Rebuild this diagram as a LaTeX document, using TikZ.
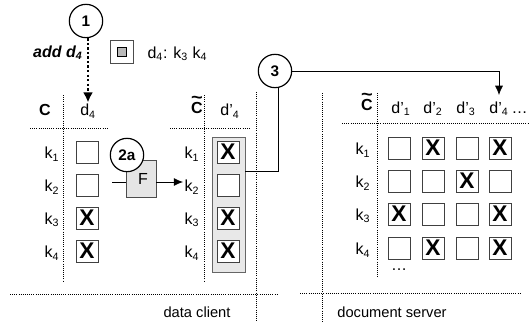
\documentclass[tikz,border=0pt]{standalone}
\usepackage{fontspec}
\usepackage{graphicx}
\setmainfont{Liberation Sans}
\usetikzlibrary{arrows.meta, positioning}
\newcommand{\idx}[1]{\textsubscript{#1}}
\newcommand{\ctil}{\ooalign{\bfseries C\cr\hidewidth\raisebox{0.62em}{\bfseries\scalebox{1.25}[1.1]{\textasciitilde}}\hidewidth\cr}}

\begin{document}
\begin{tikzpicture}[
    x=0.75pt, y=-0.75pt,
    font=\fontsize{12}{14}\selectfont,
    stepnum/.style={circle, draw, line width=0.9pt, fill=white, minimum size=25pt, inner sep=0pt, font=\fontsize{11.5}{13}\selectfont\bfseries},
    cell/.style={rectangle, draw=black!75, fill=white, line width=0.6pt, minimum size=16.5pt, inner sep=0pt},
    xcell/.style={cell, font=\fontsize{17}{17}\selectfont\bfseries},
    lbl/.style={inner sep=1pt},
    hdr/.style={inner sep=1pt, font=\fontsize{12}{14}\selectfont\bfseries},
    sep/.style={densely dotted, line width=0.6pt},
    arrow/.style={-{Latex[length=7pt,width=6pt]}, line width=0.6pt},
    dotarrow/.style={-{Latex[length=7.5pt,width=7.5pt]}, dash pattern=on 1.8pt off 1.6pt, line width=1.9pt}
]
    \useasboundingbox (0,0) rectangle (529,322);

    % Step 1: new document
    \node[stepnum] (step1) at (86,21) {1};
    \node[hdr, font=\fontsize{12}{14}\selectfont\bfseries\itshape, anchor=east] (add) at (84,53) {add d\idx{4}};
    \node[draw=black!70, minimum size=17pt, inner sep=0pt] (newdoc) at (121.5,52) {};
    \node[draw, fill=gray!55, minimum size=6.5pt, inner sep=0pt] (newdocin) at (newdoc.center) {};
    \node[lbl, anchor=west] (dockeys) at (146,54) {d\idx{4}: k\idx{3} k\idx{4}};

    % Table C
    \node[hdr] (c) at (45,110) {C};
    \node[lbl] (cd4) at (88,111) {d\idx{4}};
    \node[lbl] (ck1) at (52,154) {k\idx{1}};
    \node[lbl] (ck2) at (52,187) {k\idx{2}};
    \node[lbl] (ck3) at (52,220) {k\idx{3}};
    \node[lbl] (ck4) at (52,253) {k\idx{4}};
    \node[cell] (cc1) at (87,152) {};
    \node[cell] (cc2) at (87,185) {};
    \node[xcell] (cc3) at (87,218) {X};
    \node[xcell] (cc4) at (87,251) {X};
    \draw[sep] (63,95) -- (63,282);
    \draw[sep] (30,128) -- (108,128);

    \draw[dotarrow] (step1.south -| cd4) -- (cd4.north);

    % Table C~ (client)
    \node[hdr] (ct) at (197,108) {\ctil};
    \node[lbl] (ctd4) at (230,111) {d'\idx{4}};
    \node[fill=gray!18, draw=black!60, line width=0.6pt, minimum width=24.75pt, minimum height=101.25pt] (ctcol) at (228.5,204.5) {};
    \node[lbl] (ctk1) at (192,154) {k\idx{1}};
    \node[lbl] (ctk2) at (192,187) {k\idx{2}};
    \node[lbl] (ctk3) at (192,220) {k\idx{3}};
    \node[lbl] (ctk4) at (192,253) {k\idx{4}};
    \node[xcell] (ctc1) at (228,152) {X};
    \node[cell] (ctc2) at (228,185) {};
    \node[xcell] (ctc3) at (228,218) {X};
    \node[xcell] (ctc4) at (228,251) {X};
    \draw[sep] (204,95) -- (204,282);
    \draw[sep] (170,128) -- (249,128);

    % Step 2a: transform
    \node[draw=black!70, fill=gray!20, line width=0.6pt, minimum width=22.5pt, minimum height=27.75pt] (F) at (141,179) {\hspace{3pt}F};
    \node[stepnum] (step2a) at (127,155) {2a};
    \coordinate (fin) at (112,182);
    \draw[line width=0.6pt] (fin) -- (fin -| F.west);
    \draw[arrow] (F.east |- fin) -- (fin -| ctk2.west);

    % Step 3: upload
    \node[stepnum] (step3) at (275,71) {3};
    \coordinate (bend) at (278,171);
    \draw[line width=0.6pt] (step3.south -| bend) -- (bend) -- (bend -| ctcol.east);

    % Table C~ (server)
    \node[hdr] (st) at (367,105) {\ctil};
    \node[lbl] (sd1) at (401,109) {d'\idx{1}};
    \node[lbl] (sd2) at (433,109) {d'\idx{2}};
    \node[lbl] (sd3) at (466,109) {d'\idx{3}};
    \node[lbl] (sd4) at (499,109) {d'\idx{4}};
    \node[lbl, base right=0pt of sd4] (sdots) {\dots};
    \draw[arrow, shorten >=4pt] (step3.east) -| (sd4.north);
    \node[lbl] (sk1) at (363,150) {k\idx{1}};
    \node[lbl] (sk2) at (363,183) {k\idx{2}};
    \node[lbl] (sk3) at (363,216) {k\idx{3}};
    \node[lbl] (sk4) at (363,250) {k\idx{4}};
    \node[cell] (s11) at (399,148) {};
    \node[xcell] (s12) at (433,148) {X};
    \node[cell] (s13) at (467,148) {};
    \node[xcell] (s14) at (500,148) {X};
    \node[cell] (s21) at (399,181) {};
    \node[cell] (s22) at (433,181) {};
    \node[xcell] (s23) at (467,181) {X};
    \node[cell] (s24) at (500,181) {};
    \node[xcell] (s31) at (399,214) {X};
    \node[cell] (s32) at (433,214) {};
    \node[cell] (s33) at (467,214) {};
    \node[xcell] (s34) at (500,214) {X};
    \node[lbl] (srows) at (399,270) {\dots};
    \node[cell] (s41) at (399,248) {};
    \node[xcell] (s42) at (433,248) {X};
    \node[cell] (s43) at (467,248) {};
    \node[xcell] (s44) at (500,248) {X};
    \draw[sep] (377,93) -- (377,278);
    \draw[sep] (342,123) -- (529,123);

    % Client / server split
    \draw[sep] (256,92) -- (256,322);
    \draw[sep] (322,93) -- (322,322);
    \draw[sep] (10,294) -- (277,294);
    \draw[sep] (300,293) -- (520,293);
    \node[lbl, font=\fontsize{11}{13}\selectfont] (client) at (197,312) {data client};
    \node[lbl, font=\fontsize{11}{13}\selectfont] (server) at (392,312) {document server};

\end{tikzpicture}
\end{document}
